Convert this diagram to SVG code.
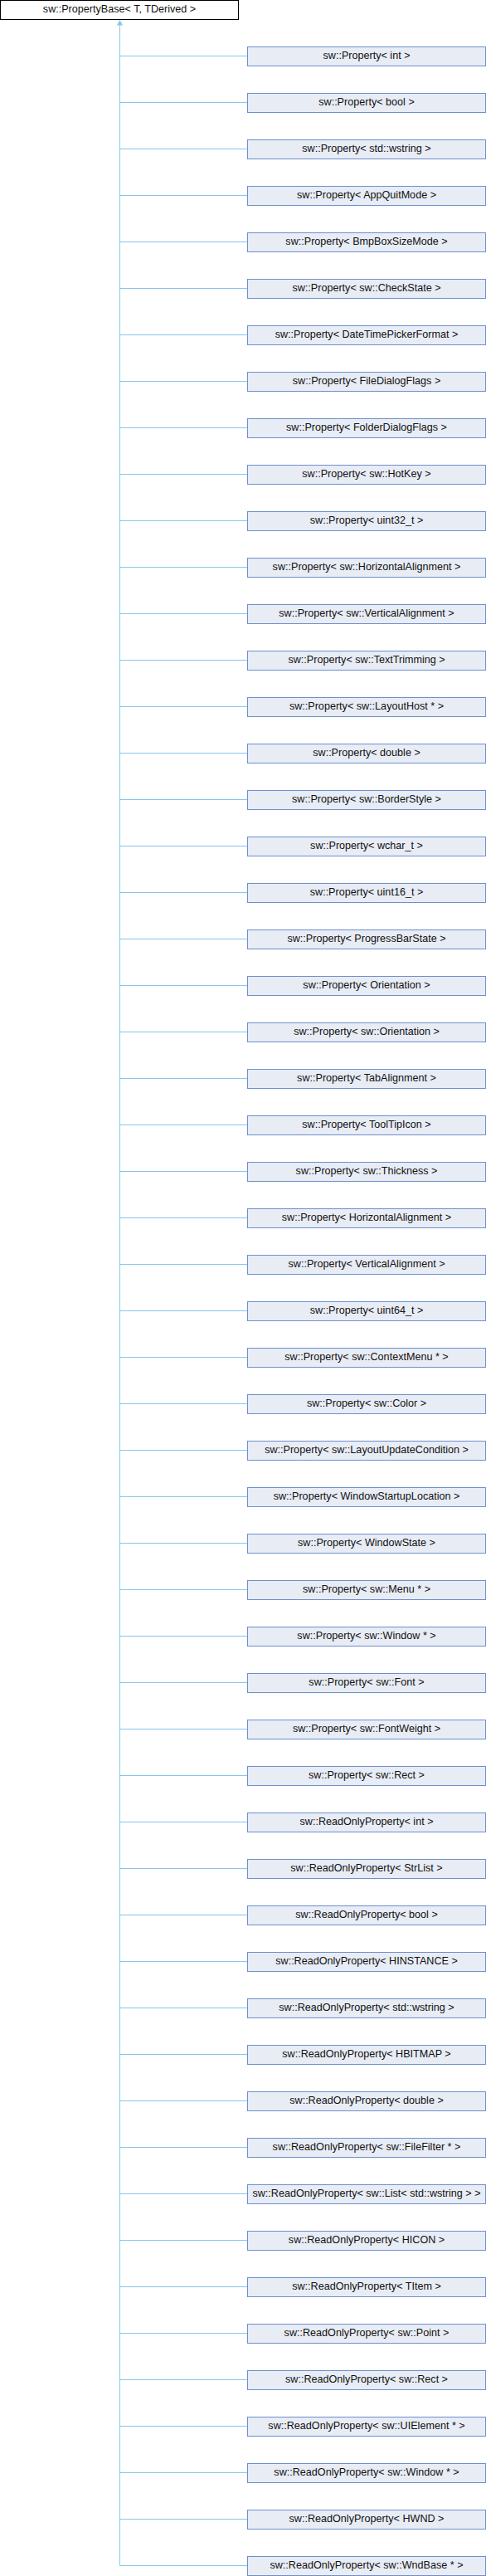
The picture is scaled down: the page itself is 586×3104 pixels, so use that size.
<svg xmlns="http://www.w3.org/2000/svg" width="586" height="3104" viewBox="0 0 586 3104">
<style>
.bg{fill:#ffffff}
.base rect{fill:#ffffff;stroke:#000000;stroke-width:1}
.n rect{fill:#e8ecf5;stroke:#6e8fcd;stroke-width:1}
text{font-family:"Liberation Sans",Arial,sans-serif;font-size:12.6px;fill:#111111;text-anchor:middle}
.c{fill:none;stroke:#88c5ec;stroke-width:1}
.ah{fill:#88c5ec;stroke:none}
</style>
<rect class="bg" x="0" y="0" width="586" height="3104"/>
<g id="connectors">
<path class="c" d="M144.5 30V3091.5"/>
<path class="c" d="M144.5 67.5H298.5M144.5 123.5H298.5M144.5 179.5H298.5M144.5 235.5H298.5M144.5 291.5H298.5M144.5 347.5H298.5M144.5 403.5H298.5M144.5 459.5H298.5M144.5 515.5H298.5M144.5 571.5H298.5M144.5 627.5H298.5M144.5 683.5H298.5M144.5 739.5H298.5M144.5 795.5H298.5M144.5 851.5H298.5M144.5 907.5H298.5M144.5 963.5H298.5M144.5 1019.5H298.5M144.5 1075.5H298.5M144.5 1131.5H298.5M144.5 1187.5H298.5M144.5 1243.5H298.5M144.5 1299.5H298.5M144.5 1355.5H298.5M144.5 1411.5H298.5M144.5 1467.5H298.5M144.5 1523.5H298.5M144.5 1579.5H298.5M144.5 1635.5H298.5M144.5 1691.5H298.5M144.5 1747.5H298.5M144.5 1803.5H298.5M144.5 1859.5H298.5M144.5 1915.5H298.5M144.5 1971.5H298.5M144.5 2027.5H298.5M144.5 2083.5H298.5M144.5 2139.5H298.5M144.5 2195.5H298.5M144.5 2251.5H298.5M144.5 2307.5H298.5M144.5 2363.5H298.5M144.5 2419.5H298.5M144.5 2475.5H298.5M144.5 2531.5H298.5M144.5 2587.5H298.5M144.5 2643.5H298.5M144.5 2699.5H298.5M144.5 2755.5H298.5M144.5 2811.5H298.5M144.5 2867.5H298.5M144.5 2923.5H298.5M144.5 2979.5H298.5M144.5 3035.5H298.5M144.5 3091.5H298.5"/>
<polygon class="ah" points="144.5,24 141,30.5 148,30.5"/>
</g>
<g id="base" class="base"><rect x="0.5" y="0.5" width="287" height="23"/><text x="144" y="15">sw::PropertyBase&lt; T, TDerived &gt;</text></g>
<g id="n01" class="n" transform="translate(298,56)"><rect x="0.5" y="0.5" width="287" height="23"/><text x="144" y="15">sw::Property&lt; int &gt;</text></g>
<g id="n02" class="n" transform="translate(298,112)"><rect x="0.5" y="0.5" width="287" height="23"/><text x="144" y="15">sw::Property&lt; bool &gt;</text></g>
<g id="n03" class="n" transform="translate(298,168)"><rect x="0.5" y="0.5" width="287" height="23"/><text x="144" y="15">sw::Property&lt; std::wstring &gt;</text></g>
<g id="n04" class="n" transform="translate(298,224)"><rect x="0.5" y="0.5" width="287" height="23"/><text x="144" y="15">sw::Property&lt; AppQuitMode &gt;</text></g>
<g id="n05" class="n" transform="translate(298,280)"><rect x="0.5" y="0.5" width="287" height="23"/><text x="144" y="15">sw::Property&lt; BmpBoxSizeMode &gt;</text></g>
<g id="n06" class="n" transform="translate(298,336)"><rect x="0.5" y="0.5" width="287" height="23"/><text x="144" y="15">sw::Property&lt; sw::CheckState &gt;</text></g>
<g id="n07" class="n" transform="translate(298,392)"><rect x="0.5" y="0.5" width="287" height="23"/><text x="144" y="15">sw::Property&lt; DateTimePickerFormat &gt;</text></g>
<g id="n08" class="n" transform="translate(298,448)"><rect x="0.5" y="0.5" width="287" height="23"/><text x="144" y="15">sw::Property&lt; FileDialogFlags &gt;</text></g>
<g id="n09" class="n" transform="translate(298,504)"><rect x="0.5" y="0.5" width="287" height="23"/><text x="144" y="15">sw::Property&lt; FolderDialogFlags &gt;</text></g>
<g id="n10" class="n" transform="translate(298,560)"><rect x="0.5" y="0.5" width="287" height="23"/><text x="144" y="15">sw::Property&lt; sw::HotKey &gt;</text></g>
<g id="n11" class="n" transform="translate(298,616)"><rect x="0.5" y="0.5" width="287" height="23"/><text x="144" y="15">sw::Property&lt; uint32_t &gt;</text></g>
<g id="n12" class="n" transform="translate(298,672)"><rect x="0.5" y="0.5" width="287" height="23"/><text x="144" y="15">sw::Property&lt; sw::HorizontalAlignment &gt;</text></g>
<g id="n13" class="n" transform="translate(298,728)"><rect x="0.5" y="0.5" width="287" height="23"/><text x="144" y="15">sw::Property&lt; sw::VerticalAlignment &gt;</text></g>
<g id="n14" class="n" transform="translate(298,784)"><rect x="0.5" y="0.5" width="287" height="23"/><text x="144" y="15">sw::Property&lt; sw::TextTrimming &gt;</text></g>
<g id="n15" class="n" transform="translate(298,840)"><rect x="0.5" y="0.5" width="287" height="23"/><text x="144" y="15">sw::Property&lt; sw::LayoutHost * &gt;</text></g>
<g id="n16" class="n" transform="translate(298,896)"><rect x="0.5" y="0.5" width="287" height="23"/><text x="144" y="15">sw::Property&lt; double &gt;</text></g>
<g id="n17" class="n" transform="translate(298,952)"><rect x="0.5" y="0.5" width="287" height="23"/><text x="144" y="15">sw::Property&lt; sw::BorderStyle &gt;</text></g>
<g id="n18" class="n" transform="translate(298,1008)"><rect x="0.5" y="0.5" width="287" height="23"/><text x="144" y="15">sw::Property&lt; wchar_t &gt;</text></g>
<g id="n19" class="n" transform="translate(298,1064)"><rect x="0.5" y="0.5" width="287" height="23"/><text x="144" y="15">sw::Property&lt; uint16_t &gt;</text></g>
<g id="n20" class="n" transform="translate(298,1120)"><rect x="0.5" y="0.5" width="287" height="23"/><text x="144" y="15">sw::Property&lt; ProgressBarState &gt;</text></g>
<g id="n21" class="n" transform="translate(298,1176)"><rect x="0.5" y="0.5" width="287" height="23"/><text x="144" y="15">sw::Property&lt; Orientation &gt;</text></g>
<g id="n22" class="n" transform="translate(298,1232)"><rect x="0.5" y="0.5" width="287" height="23"/><text x="144" y="15">sw::Property&lt; sw::Orientation &gt;</text></g>
<g id="n23" class="n" transform="translate(298,1288)"><rect x="0.5" y="0.5" width="287" height="23"/><text x="144" y="15">sw::Property&lt; TabAlignment &gt;</text></g>
<g id="n24" class="n" transform="translate(298,1344)"><rect x="0.5" y="0.5" width="287" height="23"/><text x="144" y="15">sw::Property&lt; ToolTipIcon &gt;</text></g>
<g id="n25" class="n" transform="translate(298,1400)"><rect x="0.5" y="0.5" width="287" height="23"/><text x="144" y="15">sw::Property&lt; sw::Thickness &gt;</text></g>
<g id="n26" class="n" transform="translate(298,1456)"><rect x="0.5" y="0.5" width="287" height="23"/><text x="144" y="15">sw::Property&lt; HorizontalAlignment &gt;</text></g>
<g id="n27" class="n" transform="translate(298,1512)"><rect x="0.5" y="0.5" width="287" height="23"/><text x="144" y="15">sw::Property&lt; VerticalAlignment &gt;</text></g>
<g id="n28" class="n" transform="translate(298,1568)"><rect x="0.5" y="0.5" width="287" height="23"/><text x="144" y="15">sw::Property&lt; uint64_t &gt;</text></g>
<g id="n29" class="n" transform="translate(298,1624)"><rect x="0.5" y="0.5" width="287" height="23"/><text x="144" y="15">sw::Property&lt; sw::ContextMenu * &gt;</text></g>
<g id="n30" class="n" transform="translate(298,1680)"><rect x="0.5" y="0.5" width="287" height="23"/><text x="144" y="15">sw::Property&lt; sw::Color &gt;</text></g>
<g id="n31" class="n" transform="translate(298,1736)"><rect x="0.5" y="0.5" width="287" height="23"/><text x="144" y="15">sw::Property&lt; sw::LayoutUpdateCondition &gt;</text></g>
<g id="n32" class="n" transform="translate(298,1792)"><rect x="0.5" y="0.5" width="287" height="23"/><text x="144" y="15">sw::Property&lt; WindowStartupLocation &gt;</text></g>
<g id="n33" class="n" transform="translate(298,1848)"><rect x="0.5" y="0.5" width="287" height="23"/><text x="144" y="15">sw::Property&lt; WindowState &gt;</text></g>
<g id="n34" class="n" transform="translate(298,1904)"><rect x="0.5" y="0.5" width="287" height="23"/><text x="144" y="15">sw::Property&lt; sw::Menu * &gt;</text></g>
<g id="n35" class="n" transform="translate(298,1960)"><rect x="0.5" y="0.5" width="287" height="23"/><text x="144" y="15">sw::Property&lt; sw::Window * &gt;</text></g>
<g id="n36" class="n" transform="translate(298,2016)"><rect x="0.5" y="0.5" width="287" height="23"/><text x="144" y="15">sw::Property&lt; sw::Font &gt;</text></g>
<g id="n37" class="n" transform="translate(298,2072)"><rect x="0.5" y="0.5" width="287" height="23"/><text x="144" y="15">sw::Property&lt; sw::FontWeight &gt;</text></g>
<g id="n38" class="n" transform="translate(298,2128)"><rect x="0.5" y="0.5" width="287" height="23"/><text x="144" y="15">sw::Property&lt; sw::Rect &gt;</text></g>
<g id="n39" class="n" transform="translate(298,2184)"><rect x="0.5" y="0.5" width="287" height="23"/><text x="144" y="15">sw::ReadOnlyProperty&lt; int &gt;</text></g>
<g id="n40" class="n" transform="translate(298,2240)"><rect x="0.5" y="0.5" width="287" height="23"/><text x="144" y="15">sw::ReadOnlyProperty&lt; StrList &gt;</text></g>
<g id="n41" class="n" transform="translate(298,2296)"><rect x="0.5" y="0.5" width="287" height="23"/><text x="144" y="15">sw::ReadOnlyProperty&lt; bool &gt;</text></g>
<g id="n42" class="n" transform="translate(298,2352)"><rect x="0.5" y="0.5" width="287" height="23"/><text x="144" y="15">sw::ReadOnlyProperty&lt; HINSTANCE &gt;</text></g>
<g id="n43" class="n" transform="translate(298,2408)"><rect x="0.5" y="0.5" width="287" height="23"/><text x="144" y="15">sw::ReadOnlyProperty&lt; std::wstring &gt;</text></g>
<g id="n44" class="n" transform="translate(298,2464)"><rect x="0.5" y="0.5" width="287" height="23"/><text x="144" y="15">sw::ReadOnlyProperty&lt; HBITMAP &gt;</text></g>
<g id="n45" class="n" transform="translate(298,2520)"><rect x="0.5" y="0.5" width="287" height="23"/><text x="144" y="15">sw::ReadOnlyProperty&lt; double &gt;</text></g>
<g id="n46" class="n" transform="translate(298,2576)"><rect x="0.5" y="0.5" width="287" height="23"/><text x="144" y="15">sw::ReadOnlyProperty&lt; sw::FileFilter * &gt;</text></g>
<g id="n47" class="n" transform="translate(298,2632)"><rect x="0.5" y="0.5" width="287" height="23"/><text x="144" y="15">sw::ReadOnlyProperty&lt; sw::List&lt; std::wstring &gt; &gt;</text></g>
<g id="n48" class="n" transform="translate(298,2688)"><rect x="0.5" y="0.5" width="287" height="23"/><text x="144" y="15">sw::ReadOnlyProperty&lt; HICON &gt;</text></g>
<g id="n49" class="n" transform="translate(298,2744)"><rect x="0.5" y="0.5" width="287" height="23"/><text x="144" y="15">sw::ReadOnlyProperty&lt; TItem &gt;</text></g>
<g id="n50" class="n" transform="translate(298,2800)"><rect x="0.5" y="0.5" width="287" height="23"/><text x="144" y="15">sw::ReadOnlyProperty&lt; sw::Point &gt;</text></g>
<g id="n51" class="n" transform="translate(298,2856)"><rect x="0.5" y="0.5" width="287" height="23"/><text x="144" y="15">sw::ReadOnlyProperty&lt; sw::Rect &gt;</text></g>
<g id="n52" class="n" transform="translate(298,2912)"><rect x="0.5" y="0.5" width="287" height="23"/><text x="144" y="15">sw::ReadOnlyProperty&lt; sw::UIElement * &gt;</text></g>
<g id="n53" class="n" transform="translate(298,2968)"><rect x="0.5" y="0.5" width="287" height="23"/><text x="144" y="15">sw::ReadOnlyProperty&lt; sw::Window * &gt;</text></g>
<g id="n54" class="n" transform="translate(298,3024)"><rect x="0.5" y="0.5" width="287" height="23"/><text x="144" y="15">sw::ReadOnlyProperty&lt; HWND &gt;</text></g>
<g id="n55" class="n" transform="translate(298,3080)"><rect x="0.5" y="0.5" width="287" height="23"/><text x="144" y="15">sw::ReadOnlyProperty&lt; sw::WndBase * &gt;</text></g>
</svg>
